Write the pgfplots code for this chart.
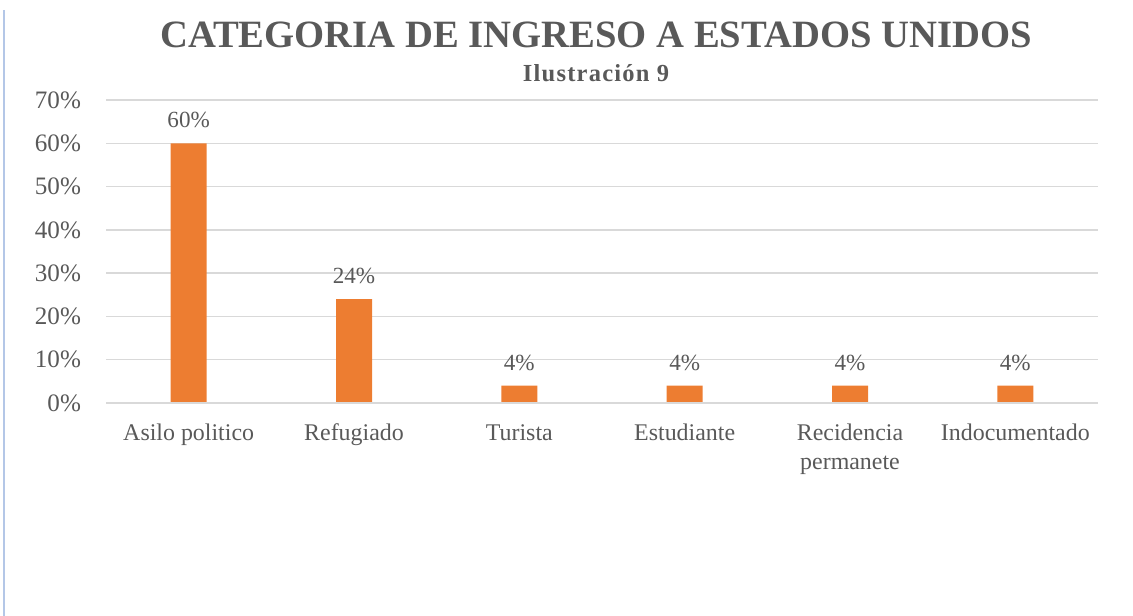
\documentclass[border=0pt]{standalone}
\usepackage{pgfplots}
\pgfplotsset{compat=1.18}
\usepackage{fontspec}
\setmainfont{Liberation Serif}
\definecolor{txt}{HTML}{595959}
\definecolor{gridc}{HTML}{D9D9D9}
\definecolor{barc}{HTML}{ED7D31}
\definecolor{edgec}{HTML}{B4C7E7}
\begin{document}
\begin{tikzpicture}
\path[use as bounding box] (0,0) rectangle (566.5bp,308bp);
\draw[edgec, line width=0.8bp] (2bp,0) -- (2bp,303bp);
\begin{axis}[
  at={(53bp,106.5bp)}, anchor=south west,
  scale only axis, width=496bp, height=151.5bp,
  xmin=-0.5, xmax=5.5, ymin=0, ymax=70,
  ytick={0,10,...,70},
  xtick={0,1,2,3,4,5},
  xticklabels={Asilo politico,Refugiado,Turista,Estudiante,{Recidencia\\permanete},Indocumentado},
  axis line style={draw=none},
  tick style={draw=none},
  xmajorgrids=false,
  ymajorgrids=true, major grid style={draw=gridc, line width=0.75bp},
  /pgf/number format/assume math mode=true,
  yticklabel={\pgfmathprintnumber{\tick}\%},
  yticklabel style={font=\fontsize{12.6}{12.6}\selectfont, text=txt, xshift=-9bp},
  typeset ticklabels with strut,
  xticklabel style={font=\fontsize{12}{14.5}\selectfont, text=txt, align=center, anchor=north, yshift=-1bp},
  ybar, bar width=18bp,
  nodes near coords={\pgfmathprintnumber{\pgfplotspointmeta}\%},
  nodes near coords style={font=\fontsize{11.6}{12}\selectfont, text=txt, yshift=4bp},
  clip=false,
]
\addplot[fill=barc, draw=none] coordinates {(0,60) (1,24) (2,4) (3,4) (4,4) (5,4)};
\draw[gridc, line width=0.9bp] (axis cs:-0.5,0) -- (axis cs:5.5,0);
\end{axis}
\node[text=txt, font=\fontsize{19.4}{19.4}\selectfont\bfseries] at (298bp,290.5bp) {CATEGORIA DE INGRESO A ESTADOS UNIDOS};
\node[text=txt, font=\fontsize{12.3}{12.3}\selectfont\bfseries\addfontfeatures{LetterSpace=5}] at (298bp,271.5bp) {Ilustración 9};
\end{tikzpicture}
\end{document}
